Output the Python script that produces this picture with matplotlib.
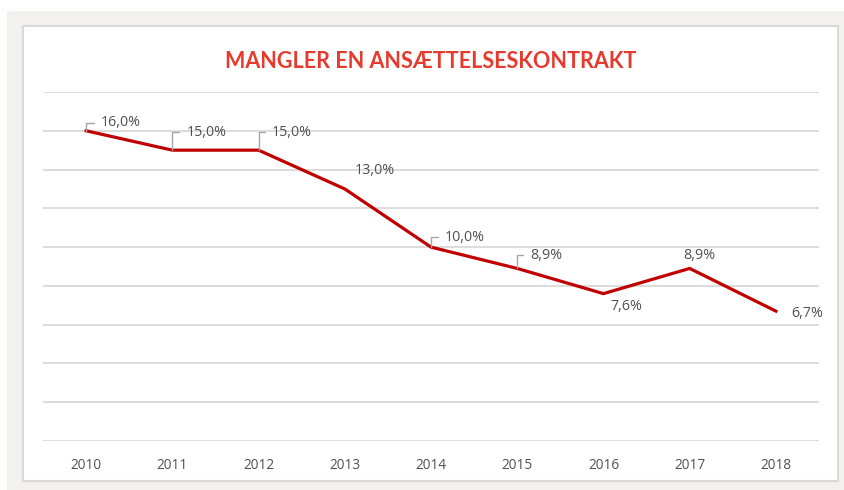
import matplotlib.pyplot as plt
from matplotlib.patches import Rectangle

years = ['2010', '2011', '2012', '2013', '2014', '2015', '2016', '2017', '2018']
values = [16.0, 15.0, 15.0, 13.0, 10.0, 8.9, 7.6, 8.9, 6.7]
labels = ['16,0%', '15,0%', '15,0%', '13,0%', '10,0%', '8,9%', '7,6%', '8,9%', '6,7%']

# label offset (pixels), alignment, leader line or not
label_pos = [
    ((15, 8), 'left', True),
    ((14, 18), 'left', True),
    ((13, 18), 'left', True),
    ((30, 18), 'center', False),
    ((14, 10), 'left', True),
    ((13, 13), 'left', True),
    ((23, -13), 'center', False),
    ((10, 13), 'center', False),
    ((15, -2), 'left', False),
]

fig = plt.figure(figsize=(8.44, 4.90), dpi=100)
fig.patch.set_facecolor('white')

# beige frame and white panel
fig.patches.append(Rectangle((7 / 844, 0), 837 / 844, 479 / 490, transform=fig.transFigure,
                             facecolor='#f2f1ed', edgecolor='none', zorder=-2))
fig.patches.append(Rectangle((23 / 844, 9 / 490), 815 / 844, 455 / 490, transform=fig.transFigure,
                             facecolor='white', edgecolor='#d9d9d9', lw=1.5, zorder=-1))

ax = fig.add_axes([43 / 844, 49 / 490, 776 / 844, 349 / 490])
ax.set_facecolor('none')

x = list(range(len(years)))
ax.plot(x, values, color='#c00000', lw=2.3, solid_joinstyle='miter', zorder=3)

for i, (val, lab) in enumerate(zip(values, labels)):
    off, ha, leader = label_pos[i]
    props = None
    if leader:
        props = dict(arrowstyle='-', color='#a6a6a6', lw=1,
                     connectionstyle='angle,angleA=0,angleB=90,rad=0',
                     relpos=(0, 0.5), shrinkA=3, shrinkB=0)
    ax.annotate(lab, xy=(i, val), xytext=off, textcoords='offset pixels',
                ha=ha, va='center', fontsize=10.3, color='#505050',
                family='Open Sans', arrowprops=props, zorder=4)

ax.set_xlim(-0.5, len(years) - 0.5)
ax.set_ylim(0, 18)
ax.set_yticks(range(0, 19, 2))
ax.set_yticklabels([])
ax.set_xticks(x)
ax.set_xticklabels(years, family='Open Sans', fontsize=9.8, color='#505050')
ax.tick_params(axis='both', length=0)
ax.tick_params(axis='x', pad=12)
ax.grid(axis='y', color='#d9d9d9', lw=1.3)
ax.set_axisbelow(True)
for s in ax.spines.values():
    s.set_visible(False)

fig.text(431 / 844, 1 - 62 / 490, 'MANGLER EN ANSÆTTELSESKONTRAKT', ha='center', va='center',
         fontsize=15.5, fontweight='bold', color='#e63a2e', family='Lato')

plt.savefig('out.png', dpi=100)
